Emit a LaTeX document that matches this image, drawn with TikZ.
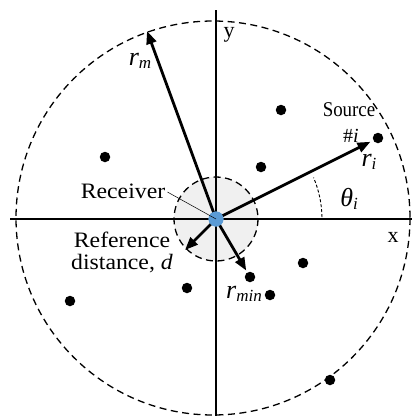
\documentclass[tikz,border=0pt]{standalone}
\usepackage{fontspec}
\usepackage{graphicx}
\setmainfont{Liberation Serif}
\usetikzlibrary{arrows.meta}
\newcommand{\symsub}[2]{{\fontsize{26}{28}\selectfont\textit{#1}}\raisebox{-0.3em}{\fontsize{17}{17}\selectfont\textit{#2}}}
\newcommand{\widetxt}[1]{\scalebox{1.08}[1]{#1}}
\begin{document}
\begin{tikzpicture}[x=1pt,y=-1pt,
  dot/.style={circle,fill=black,inner sep=0pt,minimum size=10.5pt},
  arr/.style={line width=2.8pt,-{Triangle[length=13pt,width=10pt]}},
  axis/.style={line width=1.8pt},
  dcirc/.style={line width=1.3pt,dash pattern=on 7pt off 4.5pt},
  lab/.style={font=\fontsize{22}{24}\selectfont,inner sep=0pt},
  mlab/.style={inner sep=0pt}]
\useasboundingbox (0,0) rectangle (412,416);
% reference disc
\fill[black!6] (216,219) circle[radius=42];
% axes
\draw[axis] (10,219) -- (412,219);
\draw[axis] (216,10) -- (216,416);
% circles
\draw[dcirc] (216,219) circle[radius=42];
\draw[dcirc] (213,218) circle[radius=197];
% angle arc
\draw[line width=0.9pt,dash pattern=on 3pt off 2pt] (216,219) ++(-1:106) arc[start angle=-1,end angle=-23,radius=106];
% nodes
\node[circle,fill={rgb,255:red,91;green,155;blue,213},inner sep=0pt,minimum size=15pt] (rx) at (216,219) {};
\node[dot] (src) at (378,138) {};
\node[dot] (dmin) at (250,277) {};
\node[dot] (s1) at (105,157) {};
\node[dot] (s2) at (281,110) {};
\node[dot] (s3) at (261,167) {};
\node[dot] (s4) at (70,301) {};
\node[dot] (s5) at (187,288) {};
\node[dot] (s6) at (303,263) {};
\node[dot] (s7) at (270,295) {};
\node[dot] (s8) at (330,380) {};
\coordinate (rmtip) at (147,31);
\coordinate (dtip) at (185,250);
% arrows
\draw[arr] (rx.center) -- (rmtip);
\draw[arr,shorten >=3pt] (rx.center) -- (src);
\draw[arr,shorten >=2pt] (rx.center) -- (dmin);
\draw[arr] (rx.center) -- (dtip);
% receiver node again on top
\node[circle,fill={rgb,255:red,91;green,155;blue,213},inner sep=0pt,minimum size=15pt] at (rx) {};
% labels
\node[lab] (ly) at (229,35) {y};
\node[lab] (lx) at (393,237) {x};
\node[mlab] (lrm) at (140,61) {\symsub{r}{m}};
\node[lab,font=\fontsize{21}{23}\selectfont] (lsrc) at (349,110) {\scalebox{0.9}[1]{Source}};
\node[font=\fontsize{20}{21}\selectfont,inner sep=0pt] (lnum) at (351,136) {\#\textit{i}};
\node[mlab] (lri) at (369,162) {\symsub{r}{i}};
\node[mlab] (lth) at (349,199) {\symsub{θ}{i}};
\node[lab] (lrec) at (123,191) {\widetxt{Receiver}};
\draw[line width=0.5pt] (lrec.east) ++(2,1) -- (rx.center);
\node[lab,align=center] (lref) at (122,252) {\widetxt{Reference}\\[-2pt]\widetxt{distance, \textit{d}}};
\node[mlab] (lrmin) at (244,294) {\symsub{r}{min}};
\end{tikzpicture}
\end{document}
